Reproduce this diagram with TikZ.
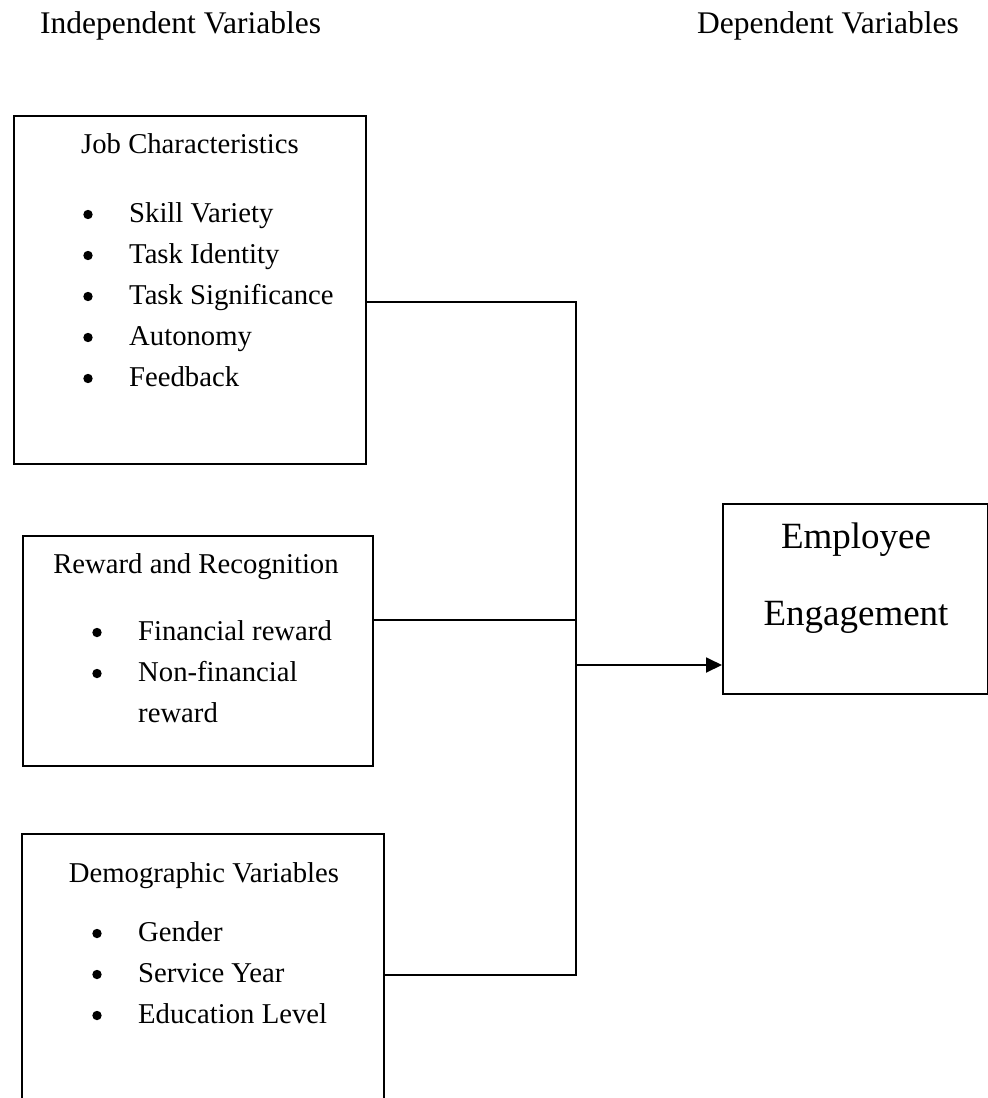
\documentclass[tikz,border=0pt]{standalone}
\usepackage{fontspec}
\setmainfont{Liberation Serif}
\usetikzlibrary{arrows.meta}
\begin{document}
\begin{tikzpicture}[x=1pt,y=-1pt,
  frame/.style={draw, line width=1.9pt, rectangle, inner sep=0pt, anchor=north west},
  conn/.style={line width=1.9pt},
  head/.style={font=\fontsize{31.5}{36}\selectfont, anchor=base west, inner sep=0pt},
  boxtitle/.style={font=\fontsize{28.7}{34}\selectfont, anchor=base, inner sep=0pt},
  item/.style={font=\fontsize{28.7}{34}\selectfont, anchor=base west, inner sep=0pt},
  dot/.style={circle, fill, minimum size=9.4pt, inner sep=0pt},
  big/.style={font=\fontsize{37}{42}\selectfont, anchor=base, inner sep=0pt}]
\useasboundingbox (0,0) rectangle (988,1098);

% headers
\node[head] (hind) at (40,33) {Independent Variables};
\node[head] (hdep) at (697,33) {Dependent Variables};

% box 1
\node[frame, minimum width=352pt, minimum height=348pt] (job) at (13,115) {};
\node[boxtitle] (jobt) at (190,153) {Job Characteristics};
\foreach \t [count=\i from 0] in {Skill Variety,Task Identity,Task Significance,Autonomy,Feedback}{
  \node[dot] (jd\i) at (88,222+41*\i-7.5) {};
  \node[item] (ji\i) at (129,222+41*\i) {\t};
}

% box 2
\node[frame, minimum width=350pt, minimum height=230pt] (rew) at (22,535) {};
\node[boxtitle] (rewt) at (196,573) {Reward and Recognition};
\node[dot] (rd0) at (97,640-7.5) {};
\node[item] (ri0) at (138,640) {Financial reward};
\node[dot] (rd1) at (97,681-7.5) {};
\node[item] (ri1) at (138,681) {Non-financial};
\node[item] (ri2) at (138,722) {reward};

% box 3 (open at the bottom edge of the picture)
\node[frame, draw=none, minimum width=360pt, minimum height=264pt] (demo) at (22,834) {};
\draw[line width=1.9pt] (demo.south west) -- (demo.north west) -- (demo.north east) -- (demo.south east);
\node[boxtitle] (demot) at (204,882) {Demographic Variables};
\foreach \t [count=\i from 0] in {Gender,Service Year,Education Level}{
  \node[dot] (dd\i) at (97,941+41*\i-7.5) {};
  \node[item] (di\i) at (138,941+41*\i) {\t};
}

% box 4
\node[frame, minimum width=265pt, minimum height=190pt] (eng) at (722,503) {};
\node[big] (eng1) at (856,548) {Employee};
\node[big] (eng2) at (856,625) {Engagement};

% connectors
\coordinate (bus1) at (576,302);
\coordinate (bus2) at (576,620);
\coordinate (bus3) at (576,975);
\coordinate (busA) at (576,665);
\draw[conn] (job.east |- bus1) -- (bus1) -- (bus3) -- (demo.east |- bus3);
\draw[conn] (rew.east |- bus2) -- (bus2);
\draw[conn, -{Triangle[length=16pt,width=15pt]}] (busA) -- (eng.west |- busA);
\end{tikzpicture}
\end{document}
